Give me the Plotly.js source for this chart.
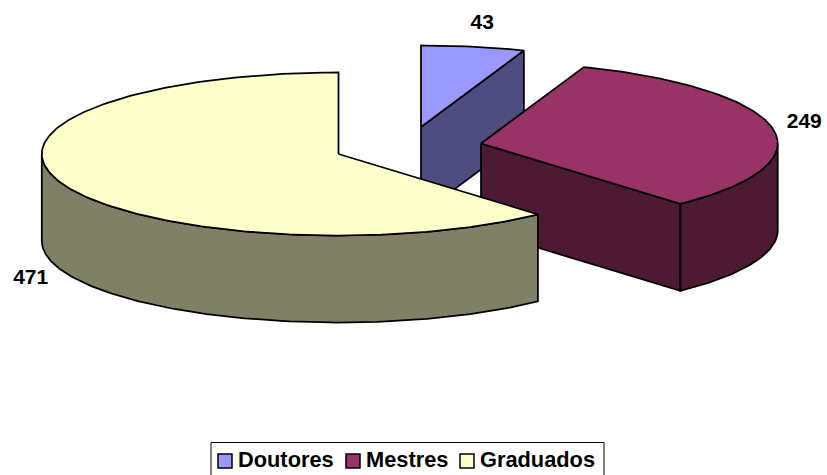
<!DOCTYPE html>
<html><head><meta charset="utf-8">
<script src="https://cdn.plot.ly/plotly-3.0.1.min.js"></script>
<style>html,body{margin:0;padding:0;background:#fff;overflow:hidden}#c{width:827px;height:475px}</style>
</head><body><div id="c"></div>
<script>
const categories = ['Doutores', 'Mestres', 'Graduados'];
const values = [43, 249, 471];
const topColors = ['#9999FF', '#993366', '#FFFFCC'];
const sideColors = ['#4D4D80', '#4D1A33', '#808066'];

// Projection of the 3D pie, in the pixel space of the hidden axes
const RX = 296.7, RY = 81.5, DEPTH = 87;
const centers = [[421, 127], [481, 143.5], [338.5, 154]];
const labelOffsets = [[9, -23], [32, -5], [-31, 95.5]];
const legendMarkerX = [225, 353, 467];
const legendTextX = [238, 366, 480];
const legendY = 461;
const legendTextY = 462;
const FONT = 'Liberation Sans, Arial, sans-serif';
const LINE = {color: '#000', width: 1.75};

const total = values.reduce((a, b) => a + b, 0);
const rad = d => d * Math.PI / 180;
const pt = (c, a, dz) => [c[0] + RX * Math.sin(rad(a)), c[1] - RY * Math.cos(rad(a)) + dz];
function arc(c, a0, a1, dz) {
  const out = [], n = Math.max(2, Math.ceil(Math.abs(a1 - a0)));
  for (let i = 0; i <= n; i++) out.push(pt(c, a0 + (a1 - a0) * i / n, dz));
  return out;
}
function poly(points, fill) {
  const p = points.concat([points[0]]);
  return {x: p.map(q => q[0]), y: p.map(q => q[1]), mode: 'lines', fill: 'toself',
    fillcolor: fill, line: LINE, hoverinfo: 'skip', showlegend: false};
}
function cutFace(c, a, fill) {
  const e = pt(c, a, 0);
  return poly([c, e, [e[0], e[1] + DEPTH], [c[0], c[1] + DEPTH]], fill);
}

const traces = [];
const labelX = [], labelY = [];
let start = 0;
values.forEach((v, i) => {
  const end = start + v / total * 360, c = centers[i];
  if (end < 180) traces.push(cutFace(c, end, sideColors[i]));
  if (start > 180) traces.push(cutFace(c, start, sideColors[i]));
  const r0 = Math.max(start, 90), r1 = Math.min(end, 270);
  if (r1 > r0) traces.push(poly(arc(c, r0, r1, 0).concat(arc(c, r1, r0, DEPTH)), sideColors[i]));
  traces.push(poly([c].concat(arc(c, start, end, 0)), topColors[i]));
  const m = pt(c, (start + end) / 2, 0);
  labelX.push(m[0] + labelOffsets[i][0]);
  labelY.push(m[1] + labelOffsets[i][1]);
  start = end;
});

traces.push({x: labelX, y: labelY, mode: 'text', text: values.map(String),
  textposition: 'middle center', textfont: {family: FONT, size: 21, color: '#000', weight: 700},
  hoverinfo: 'skip', showlegend: false, cliponaxis: false});

traces.push({x: legendMarkerX, y: categories.map(() => legendY), mode: 'markers',
  marker: {symbol: 'square', size: 14, color: topColors, line: {color: '#000', width: 1.5}},
  hoverinfo: 'skip', showlegend: false, cliponaxis: false});

traces.push({x: legendTextX, y: categories.map(() => legendTextY), mode: 'text',
  text: categories, textposition: 'middle right',
  textfont: {family: FONT, size: 21.8, color: '#000', weight: 700},
  hoverinfo: 'skip', showlegend: false, cliponaxis: false});

const layout = {
  width: 827, height: 475, margin: {l: 0, r: 0, t: 0, b: 0},
  paper_bgcolor: '#fff', plot_bgcolor: '#fff', showlegend: false, hovermode: false,
  xaxis: {range: [0, 827], visible: false, fixedrange: true},
  yaxis: {range: [475, 0], visible: false, fixedrange: true},
  shapes: [{type: 'rect', xref: 'x', yref: 'y', x0: 211, x1: 604, y0: 442.5, y1: 480,
    line: {color: '#000', width: 1}, layer: 'below'}]
};
Plotly.newPlot('c', traces, layout, {displayModeBar: false, staticPlot: true});
</script></body></html>
